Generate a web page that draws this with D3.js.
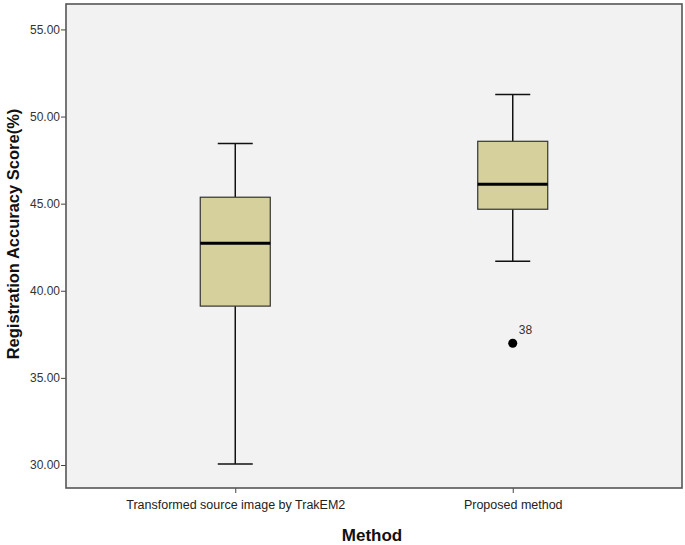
<!DOCTYPE html>
<html><head><meta charset="utf-8">
<script src="https://cdn.jsdelivr.net/npm/d3@7"></script>
<style>body{margin:0;background:#fff;}svg{display:block;font-family:Arial,"Liberation Sans",sans-serif;}</style>
</head><body><svg id="c" width="685" height="545"></svg>
<script>
const categories = ["Transformed source image by TrakEM2", "Proposed method"];
const whiskerLow = [30.06, 41.70];
const q1 = [39.12, 44.68];
const median = [42.73, 46.11];
const q3 = [45.37, 48.58];
const whiskerHigh = [48.46, 51.27];
const outliers = [{cat: 1, value: 36.99, label: "38"}];
const yTicks = [30, 35, 40, 45, 50, 55];

const svg = d3.select("#c");
const L = 66, R = 682, T = 4, B = 488;
const x = d3.scalePoint().domain(categories).range([L, R]).padding(0.61);
const y = d3.scaleLinear().domain([28.68, 56.46]).range([B, T]);

svg.append("rect").attr("x", L).attr("y", T).attr("width", R - L).attr("height", B - T)
  .attr("fill", "#f2f2f2");

const yAxis = svg.append("g").attr("transform", `translate(${L},0)`)
  .call(d3.axisLeft(y).tickValues(yTicks).tickFormat(d3.format(".2f")).tickSize(5));
yAxis.select(".domain").remove();
yAxis.selectAll("line").attr("stroke", "#444");
yAxis.selectAll("text").attr("fill", "#333").attr("font-size", "12px").attr("x", -6);

const xAxis = svg.append("g").attr("transform", `translate(0,${B})`)
  .call(d3.axisBottom(x).tickSize(5));
xAxis.select(".domain").remove();
xAxis.selectAll("line").attr("stroke", "#444");
xAxis.selectAll("text").attr("fill", "#222").attr("font-size", "12.5px").attr("y", 12);

const bw = 70, cw = 35;
const g = svg.append("g");
categories.forEach((c, i) => {
  const cx = x(c);
  g.append("line").attr("x1", cx).attr("x2", cx).attr("y1", y(whiskerLow[i])).attr("y2", y(q1[i]))
    .attr("stroke", "#111").attr("stroke-width", 1.5);
  g.append("line").attr("x1", cx).attr("x2", cx).attr("y1", y(q3[i])).attr("y2", y(whiskerHigh[i]))
    .attr("stroke", "#111").attr("stroke-width", 1.5);
  [whiskerLow[i], whiskerHigh[i]].forEach(v => {
    g.append("line").attr("x1", cx - cw / 2).attr("x2", cx + cw / 2).attr("y1", y(v)).attr("y2", y(v))
      .attr("stroke", "#111").attr("stroke-width", 1.5);
  });
  g.append("rect").attr("x", cx - bw / 2).attr("width", bw)
    .attr("y", y(q3[i])).attr("height", y(q1[i]) - y(q3[i]))
    .attr("fill", "#d6d09c").attr("stroke", "#333").attr("stroke-width", 1.2);
  g.append("line").attr("x1", cx - bw / 2).attr("x2", cx + bw / 2).attr("y1", y(median[i])).attr("y2", y(median[i]))
    .attr("stroke", "#000").attr("stroke-width", 3);
});
outliers.forEach(o => {
  const cx = x(categories[o.cat]);
  g.append("circle").attr("cx", cx).attr("cy", y(o.value)).attr("r", 4.5).attr("fill", "#000");
  g.append("text").attr("x", cx + 6).attr("y", y(o.value) - 9).attr("font-size", "12px").attr("fill", "#333").text(o.label);
});

svg.append("rect").attr("x", L).attr("y", T).attr("width", R - L).attr("height", B - T)
  .attr("fill", "none").attr("stroke", "#555").attr("stroke-width", 1.6);

svg.append("text").attr("transform", `translate(19,234) rotate(-90)`)
  .attr("text-anchor", "middle").attr("font-weight", "bold").attr("font-size", "16.5px").attr("fill", "#111")
  .text("Registration Accuracy Score(%)");
svg.append("text").attr("x", 372).attr("y", 541).attr("text-anchor", "middle")
  .attr("font-weight", "bold").attr("font-size", "17px").attr("fill", "#111").text("Method");
</script></body></html>
